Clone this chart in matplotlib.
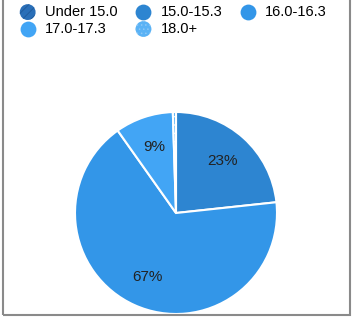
import matplotlib
matplotlib.use("Agg")
import matplotlib.pyplot as plt
from matplotlib.patches import Rectangle

categories = ["Under 15.0", "15.0-15.3", "16.0-16.3", "17.0-17.3", "18.0+"]
values = [0.0, 23.3, 66.9, 9.3, 0.5]
colors = ["#2a6fb8", "#2d85d1", "#3396e8", "#42a5f5", "#5ab2f5"]
hatches = ["////", None, None, None, "...."]

W, H = 354, 321
plt.rcParams['font.family'] = ['Liberation Sans', 'DejaVu Sans']
plt.rcParams['hatch.linewidth'] = 0.6
fig = plt.figure(figsize=(W / 100, H / 100), dpi=100)

# border
fig.patches.append(Rectangle((3 / W, (H - 315) / H), 347 / W, 1.0, transform=fig.transFigure,
                             fill=False, edgecolor="#8a8a8a", linewidth=1.5, clip_on=False))

cx, cy, r = 176, 213, 101
ax = fig.add_axes([(cx - r) / W, (H - cy - r) / H, 2 * r / W, 2 * r / H])

def fmt(p):
    return f"{p:.0f}%" if p >= 5 else ""

wedges, texts, autotexts = ax.pie(values, colors=colors, startangle=90, counterclock=False,
                                  radius=1, autopct=fmt, pctdistance=0.69,
                                  wedgeprops=dict(edgecolor="white", linewidth=1.5),
                                  textprops=dict(fontsize=11, color="#222222"))
for w, h in zip(wedges, hatches):
    if h:
        w.set_hatch(h)
ax.set_xlim(-1, 1)
ax.set_ylim(-1, 1)
ax.set_aspect("equal")
ax.axis("off")

# legend handles
hatch_edges = ["#1f5a9a", None, None, None, "#8cc8f5"]
handles = []
for c, h, e in zip(colors, hatches, hatch_edges):
    sc = ax.scatter([], [], s=130, facecolor=c, hatch=h, edgecolor=e if e else c, linewidth=0)
    handles.append(sc)
order = [0, 3, 1, 4, 2]
leg = fig.legend([handles[i] for i in order], [categories[i] for i in order], ncol=3,
                 loc="upper left", bbox_to_anchor=(16 / W, 1 - 2 / H), frameon=False,
                 fontsize=10.5, handletextpad=0.56, columnspacing=1.2, labelspacing=0.2,
                 handlelength=1.2, borderaxespad=0, borderpad=0.2)

fig.savefig("out.png", dpi=100)
